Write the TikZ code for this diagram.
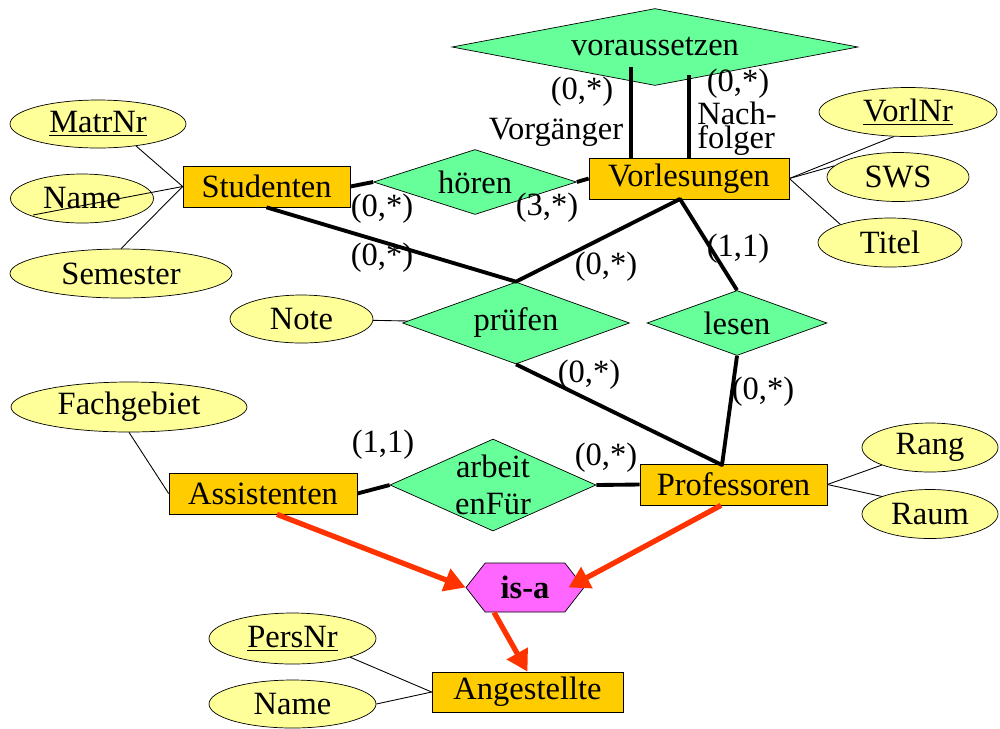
\documentclass[tikz,border=0pt]{standalone}
\usepackage{fontspec}
\setmainfont{Liberation Serif}
\usetikzlibrary{shapes.geometric,shapes.symbols,arrows.meta}
\begin{document}
\begin{tikzpicture}[x=0.02cm,y=-0.02cm,font=\fontsize{18.5}{22}\selectfont,
	entity/.style={draw,fill=entcol,inner sep=0pt,minimum height=0.82cm},
	attr/.style={ellipse,draw,fill=attcol,inner sep=0pt,minimum height=0.98cm},
	rel/.style={diamond,draw,fill=relcol,inner sep=0pt,aspect=4},
	isabox/.style={signal,signal to=west and east,signal pointer angle=104,draw,fill=isacol,inner sep=0pt,minimum width=2.36cm,minimum height=0.98cm},
	card/.style={inner sep=0pt},
	attline/.style={line width=0.5pt},
	relline/.style={line width=2.2pt,line join=round},
	isaarrow/.style={line width=3pt,draw=arrcol,-{Triangle[length=0.42cm,width=0.46cm]}}]
		\definecolor{entcol}{RGB}{255,204,0}
		\definecolor{attcol}{RGB}{255,255,153}
		\definecolor{relcol}{RGB}{102,255,153}
		\definecolor{isacol}{RGB}{255,102,255}
		\definecolor{arrcol}{RGB}{255,51,0}
		\useasboundingbox (0,0) rectangle (1000,728);
		\node[attr,minimum width=3.52cm,minimum height=0.96cm] (matrnr) at (98,124) {\underline{MatrNr}};
		\node[attr,minimum width=2.86cm] (name) at (82,198.5) {Name};
		\node[attr,minimum width=4.44cm] (sem) at (121,273.5) {Semester};
		\node[entity,minimum width=3.34cm] (stud) at (266.5,186.5) {Studenten};
		\node[rel,minimum width=4.06cm,minimum height=1.3cm] (hoeren) at (475,182) {hören};
		\node[entity,minimum width=4cm] (vorl) at (689,178.5) {Vorlesungen};
		\node[rel,minimum width=8.12cm,minimum height=1.54cm] (vor) at (655,47) {voraussetzen};
		\node[attr,minimum width=3.56cm] (vnr) at (908,112) {\underline{VorlNr}};
		\node[attr,minimum width=2.84cm] (sws) at (898,177) {SWS};
		\node[attr,minimum width=2.88cm] (titel) at (890,242.5) {Titel};
		\node[attr,minimum width=2.86cm,minimum height=0.96cm] (note) at (301.5,319) {Note};
		\node[rel,minimum width=4.54cm,minimum height=1.64cm] (pruef) at (516,323) {prüfen};
		\node[rel,minimum width=3.6cm,minimum height=1.3cm] (lesen) at (737,323) {lesen};
		\node[attr,minimum width=4.72cm,minimum height=1cm] (fach) at (129,407) {Fachgebiet};
		\node[entity,minimum width=3.76cm] (assi) at (263,493.5) {Assistenten};
		\node[rel,minimum width=4.12cm,minimum height=1.84cm] (arb) at (493,485) {};
		\node[align=center,inner sep=0pt,font=\fontsize{18.5}{21}\selectfont] (arbtxt) at (arb) {arbeit\\enFür};
		\node[entity,minimum width=3.74cm] (prof) at (733.5,484.5) {Professoren};
		\node[attr,minimum width=2.72cm] (rang) at (930,447.5) {Rang};
		\node[attr,minimum width=2.72cm] (raum) at (930,514) {Raum};
		\node[isabox] (isa) at (525,587.5) {\textbf{is-a}};
		\node[entity,minimum width=3.82cm,minimum height=0.8cm] (ang) at (527.5,692) {Angestellte};
		\node[attr,minimum width=3.34cm,minimum height=1.02cm] (pers) at (292.5,638.5) {\underline{PersNr}};
		\node[attr,minimum width=3.34cm,minimum height=0.96cm] (name2) at (292.5,704) {Name};
		\node[card] (c1) at (582,92) {(0,*)};
		\node[card] (c2) at (738,84) {(0,*)};
		\node[card] (vg) at (556,132) {Vorgänger};
		\node[card,align=left,font=\fontsize{18.5}{13.7}\selectfont] (nf) at (737,129) {Nach-\\folger};
		\node[card] (c3) at (382,209) {(0,*)};
		\node[card] (c4) at (547,208) {(3,*)};
		\node[card] (c5) at (382,258) {(0,*)};
		\node[card] (c6) at (606,267) {(0,*)};
		\node[card] (c7) at (738,249) {(1,1)};
		\node[card] (c8) at (589,375) {(0,*)};
		\node[card] (c9) at (763,392) {(0,*)};
		\node[card] (c10) at (383,445) {(1,1)};
		\node[card] (c11) at (606,458) {(0,*)};
		\coordinate (vgtop) at (631,67);
		\coordinate (nftop) at (689,75);
		\coordinate (vbot) at (680,199);
		\coordinate (ptop) at (722,465);
		\coordinate (nameend) at (33,215);
		\draw[attline] (matrnr.-30) -- (stud.west);
		\draw[attline] (stud.west) -- (nameend);
		\draw[attline] (sem.north) -- (stud.west);
		\draw[attline] (vorl.east) -- (vnr.-120);
		\draw[attline] (vorl.east) -- (sws.170);
		\draw[attline] (vorl.east) -- (titel.160);
		\draw[attline] (note) -- (pruef);
		\draw[attline] (fach.south) -- (assi.west);
		\draw[attline] (prof.east) -- (rang.200);
		\draw[attline] (prof.east) -- (raum.160);
		\draw[attline] (pers.-18) -- (ang.west);
		\draw[attline] (name2.east) -- (ang.west);
		\draw[relline] (stud.east) -- (hoeren.west);
		\draw[relline] (hoeren.east) -- (vorl.west);
		\draw[relline] (vgtop) -- (vgtop |- vorl.north);
		\draw[relline] (nftop) -- (nftop |- vorl.north);
		\draw[relline] (stud.south) -- (pruef.north) -- (vbot) -- (lesen.north);
		\draw[relline] (pruef.south) -- (ptop) -- (lesen.south);
		\draw[relline] (assi.east) -- (arb.west);
		\draw[relline] (arb.east) -- (prof.west);
		\draw[isaarrow] ([xshift=0.28cm]assi.south) -- (isa.west);
		\draw[isaarrow] ([xshift=-0.25cm]prof.south) -- ([xshift=-0.32cm]isa.east);
		\draw[isaarrow] ([xshift=-0.62cm]isa.south) -- (ang.north);
	\end{tikzpicture}
\end{document}
